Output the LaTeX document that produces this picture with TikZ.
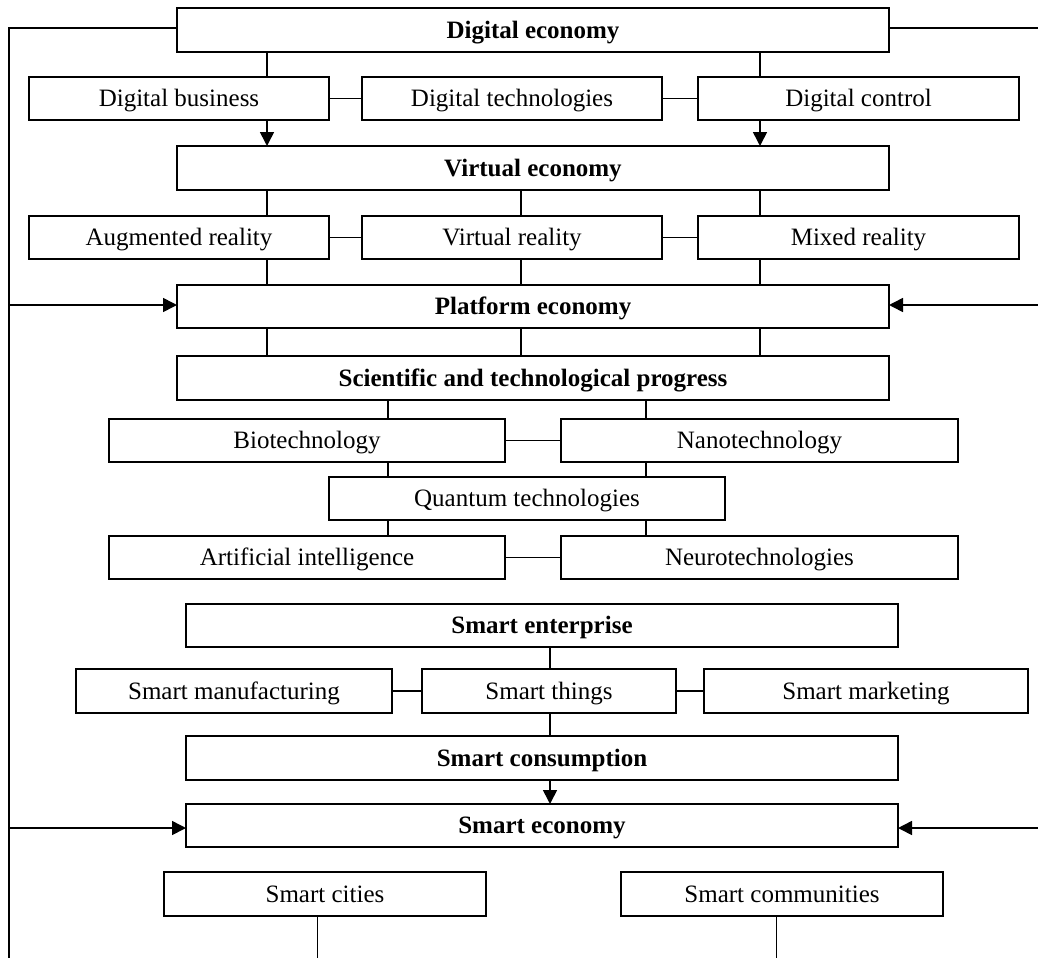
\documentclass[tikz,border=0pt]{standalone}
\usepackage{fontspec}
\setmainfont{Liberation Serif}
\usetikzlibrary{arrows.meta}
\begin{document}
\begin{tikzpicture}[x=1pt,y=-1pt,
  box/.style={draw, line width=1.8pt, rectangle, inner sep=0pt, outer sep=0pt, minimum height=44pt, text height=16.5pt, text depth=0pt, font=\fontsize{25}{30}\selectfont},
  bbox/.style={box, font=\fontsize{25}{30}\selectfont\bfseries},
  link/.style={line width=1.6pt},
  thin/.style={line width=1pt},
  arr/.style={line width=1.6pt, -{Triangle[length=14pt,width=14pt]}}]
\useasboundingbox (0,0) rectangle (1038,958);
% column coordinates
\coordinate (xa) at (267,0);
\coordinate (xb) at (521,0);
\coordinate (xc) at (760,0);
\coordinate (xd) at (388,0);
\coordinate (xe) at (646,0);
\coordinate (xf) at (550,0);
\coordinate (xg) at (317,0);
\coordinate (xh) at (776,0);
% nodes
\node[bbox, minimum width=712pt] (de) at (533,30) {Digital economy};
\node[box, minimum width=300pt, minimum height=43pt] (db) at (179,98.5) {Digital business};
\node[box, minimum width=300pt, minimum height=43pt] (dt) at (512,98.5) {Digital technologies};
\node[box, minimum width=321pt, minimum height=43pt] (dc) at (858.5,98.5) {Digital control};
\node[bbox, minimum width=712pt] (ve) at (533,168) {Virtual economy};
\node[box, minimum width=300pt, minimum height=43pt] (ar) at (179,237.5) {Augmented reality};
\node[box, minimum width=300pt, minimum height=43pt] (vr) at (512,237.5) {Virtual reality};
\node[box, minimum width=321pt, minimum height=43pt] (mr) at (858.5,237.5) {Mixed reality};
\node[bbox, minimum width=712pt, minimum height=43pt] (pe) at (533,306.5) {Platform economy};
\node[bbox, minimum width=712pt] (sp) at (533,378) {Scientific and technological progress};
\node[box, minimum width=396pt, minimum height=43pt] (bio) at (307,440.5) {Biotechnology};
\node[box, minimum width=397pt, minimum height=43pt] (nano) at (759.5,440.5) {Nanotechnology};
\node[box, minimum width=396pt, minimum height=43pt] (qt) at (527,498.5) {Quantum technologies};
\node[box, minimum width=396pt, minimum height=43pt] (ai) at (307,557.5) {Artificial intelligence};
\node[box, minimum width=397pt, minimum height=43pt] (neuro) at (759.5,557.5) {Neurotechnologies};
\node[bbox, minimum width=712pt, minimum height=43pt] (se) at (542,625.5) {Smart enterprise};
\node[box, minimum width=316pt] (sm) at (234,691) {Smart manufacturing};
\node[box, minimum width=254pt] (st) at (549,691) {Smart things};
\node[box, minimum width=324pt] (smk) at (866,691) {Smart marketing};
\node[bbox, minimum width=712pt] (sc) at (542,758) {Smart consumption};
\node[bbox, minimum width=712pt, minimum height=43pt] (sec) at (542,825.5) {Smart economy};
\node[box, minimum width=322pt] (cit) at (325,894) {Smart cities};
\node[box, minimum width=322pt] (com) at (782,894) {Smart communities};
% free ends
\coordinate (lt) at (9,28);
\coordinate (lb) at (9,958);
\coordinate (rt) at (1038,28);
\coordinate (rp) at (1038,305);
\coordinate (rs) at (1038,828);
\coordinate (lp) at (9,305);
\coordinate (ls) at (9,828);
\coordinate (cb) at (317,958);
\coordinate (mb) at (776,958);
% level 1
\draw[link] (de.south -| xa) -- (db.north -| xa);
\draw[link] (de.south -| xc) -- (dc.north -| xc);
\draw[link] (db.east) -- (dt.west);
\draw[link] (dt.east) -- (dc.west);
\draw[arr] (db.south -| xa) -- (ve.north -| xa);
\draw[arr] (dc.south -| xc) -- (ve.north -| xc);
% level 2
\draw[link] (ve.south -| xa) -- (ar.north -| xa);
\draw[link] (ve.south -| xb) -- (vr.north -| xb);
\draw[link] (ve.south -| xc) -- (mr.north -| xc);
\draw[link] (ar.east) -- (vr.west);
\draw[link] (vr.east) -- (mr.west);
\draw[link] (ar.south -| xa) -- (pe.north -| xa);
\draw[link] (vr.south -| xb) -- (pe.north -| xb);
\draw[link] (mr.south -| xc) -- (pe.north -| xc);
% level 3
\draw[link] (pe.south -| xa) -- (sp.north -| xa);
\draw[link] (pe.south -| xb) -- (sp.north -| xb);
\draw[link] (pe.south -| xc) -- (sp.north -| xc);
\draw[link] (sp.south -| xd) -- (bio.north -| xd);
\draw[link] (sp.south -| xe) -- (nano.north -| xe);
\draw[link] (bio.east) -- (nano.west);
\draw[link] (bio.south -| xd) -- (qt.north -| xd);
\draw[link] (nano.south -| xe) -- (qt.north -| xe);
\draw[link] (qt.south -| xd) -- (ai.north -| xd);
\draw[link] (qt.south -| xe) -- (neuro.north -| xe);
\draw[link] (ai.east) -- (neuro.west);
% level 4
\draw[link] (se.south -| xf) -- (st.north -| xf);
\draw[link] (sm.east) -- (st.west);
\draw[link] (st.east) -- (smk.west);
\draw[link] (st.south -| xf) -- (sc.north -| xf);
\draw[arr] (sc.south -| xf) -- (sec.north -| xf);
% feedback lines
\draw[link] (de.west |- lt) -- (lt) -- (lb);
\draw[link] (de.east |- rt) -- (rt);
\draw[arr] (lp) -- (pe.west |- lp);
\draw[arr] (ls) -- (sec.west |- ls);
\draw[arr] (rp) -- (pe.east |- rp);
\draw[arr] (rs) -- (sec.east |- rs);
% bottom
\draw[thin] (cit.south -| xg) -- (cb);
\draw[thin] (com.south -| xh) -- (mb);
\end{tikzpicture}
\end{document}
